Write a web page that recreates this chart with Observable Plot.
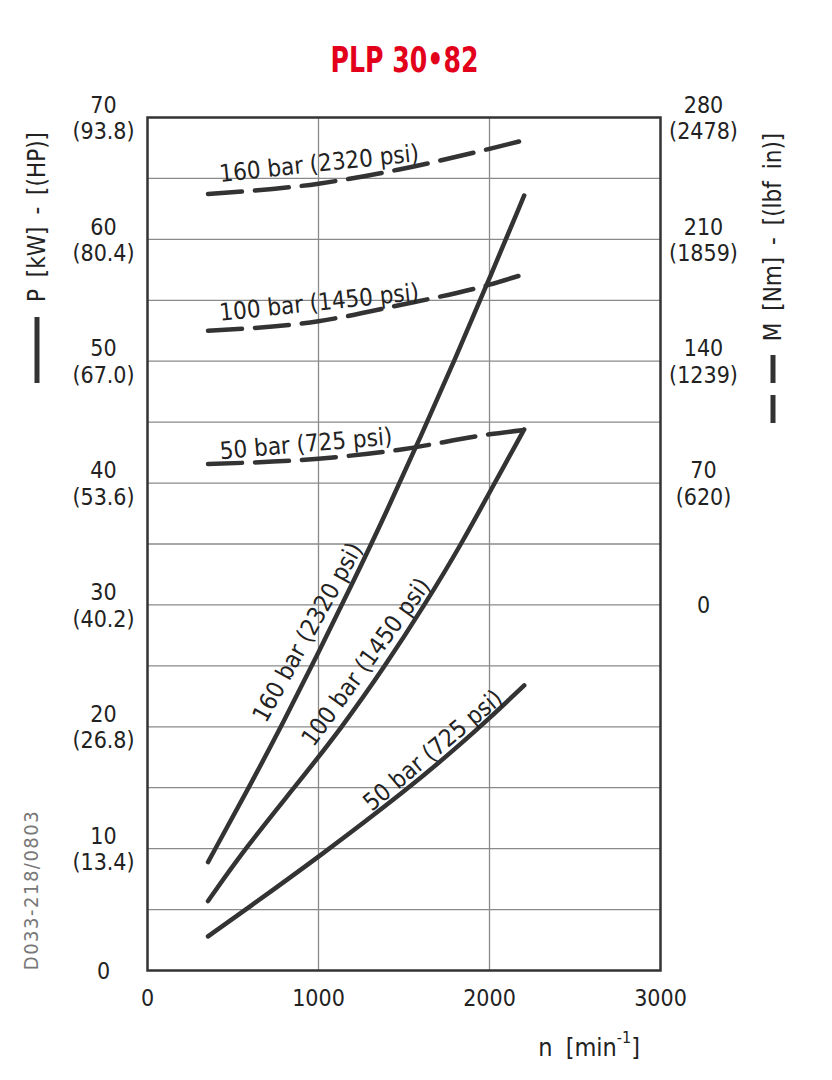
<!DOCTYPE html>
<html>
<head>
<meta charset="utf-8">
<script src="https://cdn.jsdelivr.net/npm/d3@7"></script>
<script src="https://cdn.jsdelivr.net/npm/@observablehq/plot@0.6"></script>
<style>
  html, body { margin: 0; padding: 0; background: #fff; }
  #title { height: 80px; box-sizing: border-box; padding-top: 42px; padding-right: 24px; text-align: center; }
  #title span { display: inline-block; transform: scaleX(0.8); transform-origin: center;
           font-family: "DejaVu Sans Condensed", "DejaVu Sans", sans-serif; font-stretch: condensed;
           font-weight: bold; font-size: 35px; line-height: 36px; color: #e2001a; }
  #chart svg { display: block; }
</style>
</head>
<body>
<div id="title"><span>PLP 30•82</span></div>
<div id="chart"></div>
<script>
// ---- data ----
const series = ["160 bar (2320 psi)", "100 bar (1450 psi)", "50 bar (725 psi)"];

// power curves (solid), P in kW vs n in min^-1
const speedP160 = [354, 600, 800, 1000, 1200, 1400, 1600, 1800, 2000, 2203];
const power160  = [8.9, 15.2, 20.5, 26.1, 31.8, 37.7, 43.9, 50.2, 56.8, 63.6];
const speedP100 = [354, 570, 858, 1140, 1390, 1621, 1836, 2030, 2203];
const power100  = [5.7, 10, 15, 20, 25, 30, 35, 40, 44.4];
const speedP50  = [354, 574, 1000, 1532, 1800, 2000, 2203];
const power50   = [2.8, 5, 9.3, 15, 18.2, 20.7, 23.4];

// torque curves (dashed), M in Nm vs n
const speedM    = [354, 1000, 1464, 2000, 2203];
const torque160 = [236, 242, 250, 262, 267];
const torque100 = [157.5, 163, 172, 184, 190];
const torque50  = [81, 84, 89, 98, 100.5];

// axis ticks
const xTicks = [0, 1000, 2000, 3000];
const gridXTicks = [1000, 2000];
const gridYTicks = [5, 10, 15, 20, 25, 30, 35, 40, 45, 50, 55, 60, 65];
const powerTicks = [0, 10, 20, 30, 40, 50, 60, 70];
const powerTickLabels = ["0", "10\n(13.4)", "20\n(26.8)", "30\n(40.2)", "40\n(53.6)", "50\n(67.0)", "60\n(80.4)", "70\n(93.8)"];
const torqueTicks = [0, 70, 140, 210, 280];
const torqueTickLabels = ["0", "70\n(620)", "140\n(1239)", "210\n(1859)", "280\n(2478)"];

// torque axis maps onto the power axis: 0 Nm at 30 kW, 70 Nm per 10 kW
const torqueToPower = m => 30 + m / 7;

// ---- tables ----
const zip = (xs, ys, s) => xs.map((x, i) => ({n: x, v: ys[i], s}));
const powerRows = [
  ...zip(speedP160, power160, series[0]),
  ...zip(speedP100, power100, series[1]),
  ...zip(speedP50, power50, series[2])
];
const torqueRows = [
  ...zip(speedM, torque160, series[0]),
  ...zip(speedM, torque100, series[1]),
  ...zip(speedM, torque50, series[2])
].map(d => ({...d, p: torqueToPower(d.v)}));

// label placement (annotation layout)
const powerLabels = [
  {s: series[0], n: 937, p: 27.75, a: -61},
  {s: series[1], n: 1279, p: 25.3, a: -54},
  {s: series[2], n: 1670, p: 18.05, a: -40}
];
const torqueLabels = [
  {s: series[0], n: 1004, p: 66.2, a: -6},
  {s: series[1], n: 1004, p: 54.8, a: -6},
  {s: series[2], n: 927, p: 43.2, a: -5}
];

const FONT = '"DejaVu Sans Condensed", "DejaVu Sans", sans-serif';
const INK = "#333";

const plot = Plot.plot({
  width: 832,
  height: 1000,
  marginTop: 37,
  marginBottom: 110,
  marginLeft: 147,
  marginRight: 172,
  style: {fontFamily: FONT, background: "#fff", color: INK, overflow: "visible"},
  x: {domain: [0, 3000], axis: null},
  y: {domain: [0, 70], axis: null},
  marks: [
    Plot.gridY(gridYTicks, {stroke: "#8a8a8a", strokeOpacity: 1, strokeWidth: 1.3}),
    Plot.gridX(gridXTicks, {stroke: "#8a8a8a", strokeOpacity: 1, strokeWidth: 1.3}),
    Plot.frame({stroke: INK, strokeWidth: 2.5}),
    Plot.line(powerRows, {x: "n", y: "v", z: "s", stroke: INK, strokeWidth: 4.5, curve: "basis"}),
    Plot.line(torqueRows, {x: "n", y: "p", z: "s", stroke: INK, strokeWidth: 4.5, curve: "monotone-x",
      strokeDasharray: "34,13"}),
    Plot.text(powerLabels, {x: "n", y: "p", text: "s", rotate: "a", fontSize: 24, fill: "#222",
      textAnchor: "middle", lineAnchor: "middle"}),
    Plot.text(torqueLabels, {x: "n", y: "p", text: "s", rotate: "a", fontSize: 24, fill: "#222",
      textAnchor: "middle", lineAnchor: "middle"}),
    Plot.axisX(xTicks, {tickSize: 0, tickPadding: 19, fontSize: 23, fill: "#222", label: null,
      tickFormat: d => String(d)}),
    Plot.text(powerTicks, {y: d => d, text: (d, i) => powerTickLabels[i], frameAnchor: "left", dx: -44,
      textAnchor: "middle", lineAnchor: "middle", fontSize: 23, lineHeight: 1.15, fill: "#222"}),
    Plot.text(torqueTicks, {y: d => torqueToPower(d), text: (d, i) => torqueTickLabels[i], frameAnchor: "right", dx: 43,
      textAnchor: "middle", lineAnchor: "middle", fontSize: 23, lineHeight: 1.15, fill: "#222"})
  ]
});
document.getElementById("chart").append(plot);

// axis titles and legend keys (page y minus 80 = svg y)
const svg = d3.select(plot);
const g = svg.append("g").attr("font-family", FONT).attr("fill", "#222");
g.append("text").attr("transform", "translate(37,137) rotate(-90)")
  .attr("text-anchor", "middle").attr("dominant-baseline", "central").attr("font-size", 24)
  .attr("word-spacing", 5).text("P [kW] - [(HP)]");
g.append("line").attr("x1", 37).attr("x2", 37).attr("y1", 237).attr("y2", 303)
  .attr("stroke", INK).attr("stroke-width", 5);
g.append("text").attr("transform", "translate(773,157) rotate(-90)")
  .attr("text-anchor", "middle").attr("dominant-baseline", "central").attr("font-size", 24)
  .attr("word-spacing", 5).text("M [Nm] - [(lbf in)]");
g.append("line").attr("x1", 773).attr("x2", 773).attr("y1", 275).attr("y2", 343)
  .attr("stroke", INK).attr("stroke-width", 5).attr("stroke-dasharray", "28,12");
const xl = g.append("text").attr("x", 640).attr("y", 967).attr("text-anchor", "end")
  .attr("dominant-baseline", "central").attr("font-size", 25).attr("word-spacing", 6);
xl.append("tspan").text("n [min");
xl.append("tspan").attr("font-size", 16).attr("dy", -10).text("-1");
xl.append("tspan").attr("dy", 10).text("]");
g.append("text").attr("transform", "translate(31,810) rotate(-90)")
  .attr("text-anchor", "middle").attr("dominant-baseline", "central").attr("font-size", 20)
  .attr("letter-spacing", 1.5).attr("fill", "#777").text("D033-218/0803");
</script>
</body>
</html>
